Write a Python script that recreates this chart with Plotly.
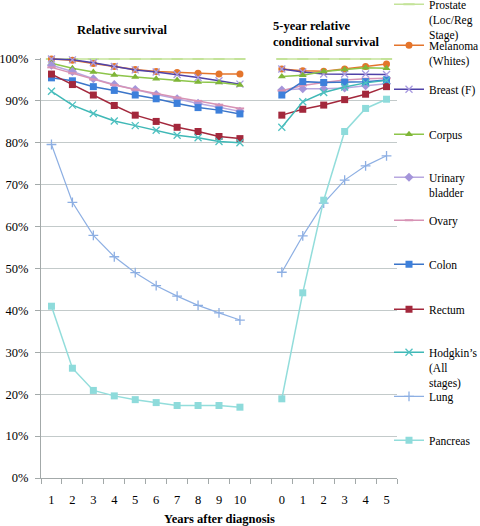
import plotly.graph_objects as go

# ---------------- data ----------------
left_years = ["1", "2", "3", "4", "5", "6", "7", "8", "9", "10"]
right_years = ["0", "1", "2", "3", "4", "5"]
y_ticks = [0, 10, 20, 30, 40, 50, 60, 70, 80, 90, 100]
y_tick_labels = ["0%", "10%", "20%", "30%", "40%", "50%", "60%", "70%", "80%", "90%", "100%"]

series_names = [
    "Prostate<br>(Loc/Reg<br>Stage)", "Melanoma<br>(Whites)", "Breast (F)", "Corpus",
    "Urinary<br>bladder", "Ovary", "Colon", "Rectum",
    "Hodgkin’s<br>(All<br>stages)", "Lung", "Pancreas",
]

# Relative survival, years 1..10 (%)
prostate_rel = [100, 100, 100, 100, 100, 100, 100, 100, 100, 100]
melanoma_rel = [100, 99.7, 98.9, 98.2, 97.5, 97.0, 96.8, 96.6, 96.4, 96.4]
breast_rel = [100, 99.8, 99.1, 98.2, 97.4, 96.9, 96.3, 95.6, 94.8, 94.0]
corpus_rel = [99.0, 97.8, 96.9, 96.2, 95.7, 95.3, 95.0, 94.5, 94.4, 93.8]
bladder_rel = [98.5, 97.0, 95.3, 93.9, 92.7, 91.5, 90.5, 89.4, 88.5, 87.5]
ovary_rel = [98.0, 96.6, 95.1, 93.8, 92.7, 91.7, 90.8, 90.0, 89.1, 88.2]
colon_rel = [95.5, 94.8, 93.4, 92.5, 91.4, 90.5, 89.4, 88.4, 87.8, 86.9]
rectum_rel = [96.4, 93.9, 91.4, 88.9, 86.6, 85.1, 83.7, 82.7, 81.5, 81.0]
hodgkin_rel = [92.3, 89.0, 87.0, 85.2, 84.1, 83.0, 81.8, 81.2, 80.3, 80.0]
lung_rel = [79.6, 65.8, 57.9, 52.8, 49.0, 45.9, 43.4, 41.2, 39.4, 37.7]
pancreas_rel = [41.0, 26.2, 20.9, 19.6, 18.7, 18.0, 17.3, 17.3, 17.3, 16.9]

# 5-year relative conditional survival, years 0..5 (%)
prostate_cond = [100, 100, 100, 100, 100, 100]
melanoma_cond = [97.6, 97.2, 97.1, 97.6, 98.2, 98.8]
breast_cond = [97.6, 96.9, 96.4, 96.4, 96.4, 96.3]
corpus_cond = [95.8, 96.1, 97.0, 97.5, 97.9, 97.8]
bladder_cond = [92.6, 92.9, 92.9, 93.1, 93.6, 94.1]
ovary_cond = [92.4, 93.7, 94.4, 95.0, 95.3, 95.4]
colon_cond = [91.4, 94.6, 94.4, 94.5, 94.6, 95.0]
rectum_cond = [86.6, 88.0, 89.0, 90.3, 91.6, 93.4]
hodgkin_cond = [83.7, 89.8, 92.0, 93.3, 94.3, 94.9]
lung_cond = [49.1, 57.8, 65.6, 71.1, 74.5, 76.9]
pancreas_cond = [18.9, 44.2, 66.3, 82.7, 88.2, 90.4]

rel_values = [prostate_rel, melanoma_rel, breast_rel, corpus_rel, bladder_rel, ovary_rel,
              colon_rel, rectum_rel, hodgkin_rel, lung_rel, pancreas_rel]
cond_values = [prostate_cond, melanoma_cond, breast_cond, corpus_cond, bladder_cond, ovary_cond,
               colon_cond, rectum_cond, hodgkin_cond, lung_cond, pancreas_cond]

# ---------------- styles ----------------
line_colors = ["#C4E39A", "#E4752C", "#4F42A8", "#8DC54A", "#B8A8E0", "#D793B5",
               "#3B75C9", "#A3283C", "#3FB8B6", "#8DAFE3", "#92DDDB"]
marker_colors = ["#C4E39A", "#E4752C", "#A89AE0", "#7FB538", "#A495DA", "#D793B5",
                 "#3D80DB", "#A3283C", "#4FC1C1", "#8DAFE3", "#8EDBDB"]
symbols = ["line-ew", "circle", "x-thin", "triangle-up", "diamond", "line-ew",
           "square", "square", "x-thin", "cross-thin", "square"]
msizes = [8, 7, 7, 7, 7, 6, 7, 7, 7, 7, 7]
lwidths = [1.5, 1.5, 1.5, 1.5, 1.5, 1.5, 1.5, 1.5, 1.5, 1.2, 1.5]
# first-line centre (px from top) of each legend entry
legend_px = [7, 48, 92, 137, 180, 223, 267, 312, 355, 399, 443]

W, H = 480, 526
ML, MR, MT, MB = 41, 83, 58, 48
PW, PH = W - ML - MR, H - MT - MB
YMAX = PH / 4.19

FONT = "Liberation Serif"
LEG_SIZE = 11.5

tick_labels = left_years + [""] + right_years
xpos = list(range(len(tick_labels)))
x_left = xpos[:len(left_years)]
x_gap = [len(left_years)]
x_right = xpos[len(left_years) + 1:]

fig = go.Figure()
legend_layout = {}
for i, name in enumerate(series_names):
    lname = "legend" if i == 0 else f"legend{i + 1}"
    sym = symbols[i]
    thin = sym in ("x-thin", "cross-thin", "line-ew")
    marker = dict(symbol=sym, size=msizes[i], color=marker_colors[i],
                  line=dict(width=(1.3 if thin else 0), color=marker_colors[i]))
    if sym == "line-ew":
        marker["line"]["width"] = 2
    fig.add_trace(go.Scatter(
        x=x_left + x_gap + x_right,
        y=rel_values[i] + [None] + cond_values[i],
        mode="lines+markers", name=name, connectgaps=False,
        line=dict(color=line_colors[i], width=lwidths[i]),
        marker=marker, legend=lname, cliponaxis=False,
    ))
    top_px = legend_px[i] - (5 + 0.65 * 1.3 * LEG_SIZE + 1.5 + 0.3 * 1.3 * LEG_SIZE
                             - 0.35 * LEG_SIZE)
    legend_layout[lname] = dict(
        x=(389 - ML) / PW, xanchor="left",
        y=(H - MB - top_px) / PH, yanchor="top",
        bgcolor="rgba(0,0,0,0)", borderwidth=0, valign="top",
        font=dict(family=FONT, size=LEG_SIZE, color="#000000"),
        itemclick=False, itemdoubleclick=False,
    )

fig.update_layout(
    width=W, height=H,
    margin=dict(l=ML, r=MR, t=MT, b=MB, autoexpand=False),
    paper_bgcolor="white", plot_bgcolor="white",
    font=dict(family=FONT, size=12.5, color="#000000"),
    showlegend=True,
    **legend_layout,
)

fig.update_xaxes(
    range=[-0.5, len(tick_labels) - 0.5],
    tickmode="array", tickvals=xpos, ticktext=tick_labels,
    ticks="", ticklabelstandoff=10,
    tickfont=dict(family=FONT, size=12.5, color="#000000"),
    minor=dict(tick0=-0.5, dtick=1, ticks="outside", ticklen=5,
               tickcolor="#A3A9A9", tickwidth=1, showgrid=False),
    showgrid=False, zeroline=False,
    showline=True, linecolor="#A3A9A9", linewidth=1,
    automargin=False, fixedrange=True,
)
fig.update_yaxes(
    range=[0, YMAX], tickmode="array", tickvals=y_ticks, ticktext=y_tick_labels,
    ticks="outside", ticklen=5, tickcolor="#A3A9A9",
    ticklabelstandoff=4,
    tickfont=dict(family=FONT, size=12.5, color="#000000"),
    showgrid=True, gridcolor="#C3CACA", gridwidth=1.3,
    zeroline=False, showline=True, linecolor="#A3A9A9", linewidth=1,
    automargin=False, fixedrange=True,
)

def px_to_paper(xp, yp):
    return (xp - ML) / PW, (H - MB - yp) / PH

ax, ay = px_to_paper(122, 30)
fig.add_annotation(text="<b>Relative survival</b>", x=ax, y=ay, xref="paper", yref="paper",
                   xanchor="center", yanchor="middle", showarrow=False,
                   font=dict(family=FONT, size=12.5, color="#000000"))
ax, ay = px_to_paper(271, 34)
fig.add_annotation(text="<b>5-year relative<br>conditional survival</b>", x=ax, y=ay,
                   xref="paper", yref="paper", xanchor="left", yanchor="middle",
                   align="left", showarrow=False,
                   font=dict(family=FONT, size=12.5, color="#000000"))
ax, ay = px_to_paper(219, 519)
fig.add_annotation(text="<b>Years after diagnosis</b>", x=ax, y=ay, xref="paper", yref="paper",
                   xanchor="center", yanchor="middle", showarrow=False,
                   font=dict(family=FONT, size=12.5, color="#000000"))

fig.write_html("out.html", config={"displayModeBar": False},
               post_script="document.body.style.margin='0px';")
